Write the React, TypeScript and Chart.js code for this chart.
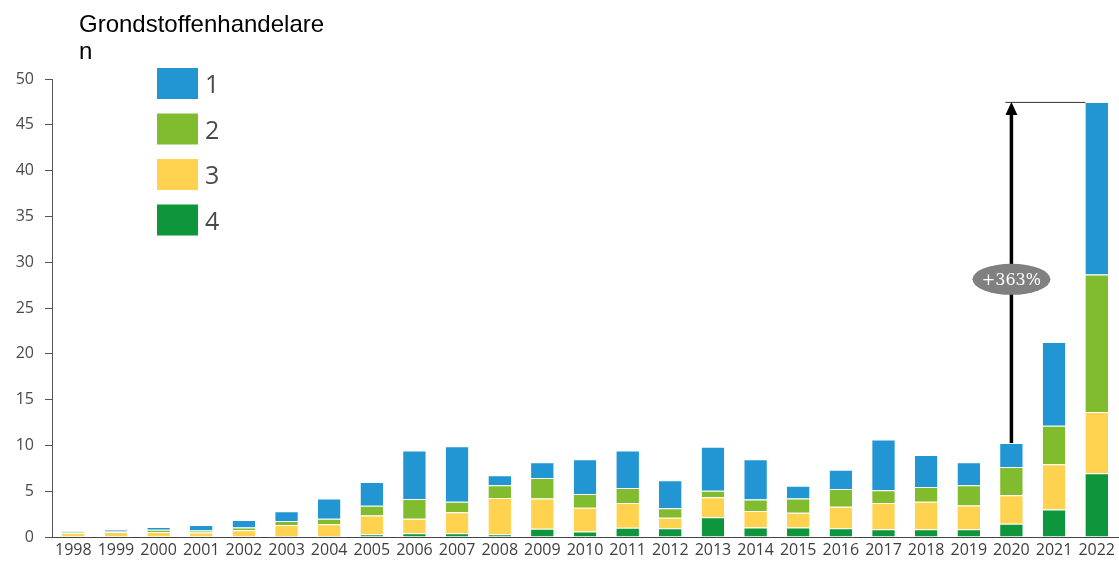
import React, { useEffect, useRef } from 'react';
import { Chart, registerables } from 'chart.js';

Chart.register(...registerables);

// Categories (years)
const years = [
  '1998', '1999', '2000', '2001', '2002', '2003', '2004', '2005', '2006', '2007',
  '2008', '2009', '2010', '2011', '2012', '2013', '2014', '2015', '2016', '2017',
  '2018', '2019', '2020', '2021', '2022',
];

// Series values, one array per category group
const series1 = [0.07, 0.2, 0.3, 0.6, 0.8, 1.05, 2.2, 2.6, 5.3, 6.05, 1.1, 1.7, 3.8, 4.1, 3.05, 4.8, 4.4, 1.4, 2.1, 5.55, 3.5, 2.5, 2.6, 9.15, 18.85];
const series2 = [0.08, 0.05, 0.25, 0.2, 0.3, 0.45, 0.6, 1.05, 2.15, 1.15, 1.4, 2.25, 1.5, 1.65, 1.05, 0.7, 1.25, 1.55, 1.95, 1.4, 1.6, 2.2, 3.1, 4.2, 15.0];
const series3 = [0.45, 0.55, 0.5, 0.45, 0.75, 1.2, 1.3, 2.05, 1.6, 2.3, 3.95, 3.3, 2.6, 2.7, 1.15, 2.2, 1.8, 1.6, 2.35, 2.85, 3.0, 2.6, 3.1, 4.95, 6.7];
const series4 = [0, 0, 0.05, 0.05, 0, 0.1, 0.1, 0.3, 0.4, 0.4, 0.3, 0.9, 0.6, 1.0, 0.95, 2.15, 1.05, 1.05, 0.95, 0.85, 0.85, 0.85, 1.45, 3.0, 6.95];

const seriesNames = ['1', '2', '3', '4'];
const seriesColors = ['#2196D3', '#80BC2D', '#FFD24F', '#0E963D'];

// Y axis ticks
const yMin = 0;
const yMax = 50;
const yStep = 5;

// Title (wraps onto a second line)
const titleLines = ['Grondstoffenhandelare', 'n'];

// Growth annotation between two years
const growthFrom = '2020';
const growthTo = '2022';

const seriesValues = [series1, series2, series3, series4];
const totals = years.map((_, i) => seriesValues.reduce((s, arr) => s + arr[i], 0));

const overlayPlugin = {
  id: 'overlay',
  afterDraw(chart: any) {
    const ctx = chart.ctx as CanvasRenderingContext2D;
    ctx.save();

    // Title
    ctx.fillStyle = '#000000';
    ctx.font = '24px "Liberation Sans", Arial, sans-serif';
    ctx.textAlign = 'left';
    ctx.textBaseline = 'alphabetic';
    titleLines.forEach((t, k) => ctx.fillText(t, 79, 32 + k * 26.5));

    // Legend
    seriesNames.forEach((name, k) => {
      const top = 68 + k * 45.5;
      ctx.fillStyle = seriesColors[k];
      ctx.fillRect(157, top, 41, 31);
      ctx.fillStyle = '#4a4a4a';
      ctx.font = '25px "Open Sans", sans-serif';
      ctx.textAlign = 'left';
      ctx.textBaseline = 'alphabetic';
      ctx.fillText(name, 205, top + 25);
    });

    // Growth arrow
    const xs = chart.scales.x;
    const ys = chart.scales.y;
    const iFrom = years.indexOf(growthFrom);
    const iTo = years.indexOf(growthTo);
    const xFrom = xs.getPixelForValue(iFrom);
    const yFrom = ys.getPixelForValue(totals[iFrom]);
    const yTo = ys.getPixelForValue(totals[iTo]);
    const topBar = chart.getDatasetMeta(3).data[iTo];
    const barLeft = topBar.x - topBar.width / 2;

    const headH = 13;
    const headW = 6;

    // leader line to the target bar
    ctx.strokeStyle = '#333333';
    ctx.lineWidth = 1;
    ctx.beginPath();
    ctx.moveTo(xFrom - headW, yTo + 0.5);
    ctx.lineTo(barLeft, yTo + 0.5);
    ctx.stroke();

    // shaft
    ctx.strokeStyle = '#000000';
    ctx.lineWidth = 3.5;
    ctx.beginPath();
    ctx.moveTo(xFrom, yFrom);
    ctx.lineTo(xFrom, yTo + headH - 1);
    ctx.stroke();

    // head
    ctx.fillStyle = '#000000';
    ctx.beginPath();
    ctx.moveTo(xFrom, yTo);
    ctx.lineTo(xFrom - headW, yTo + headH);
    ctx.lineTo(xFrom + headW, yTo + headH);
    ctx.closePath();
    ctx.fill();

    // percentage badge
    const pct = Math.round((totals[iTo] / totals[iFrom] - 1) * 100);
    const cy = yFrom + (yTo - yFrom) * 0.48;
    ctx.fillStyle = '#808080';
    ctx.beginPath();
    ctx.ellipse(xFrom, cy, 39, 15.5, 0, 0, Math.PI * 2);
    ctx.fill();
    ctx.fillStyle = '#ffffff';
    ctx.font = '16px "DejaVu Serif", serif';
    ctx.textAlign = 'center';
    ctx.textBaseline = 'alphabetic';
    ctx.fillText(`+${pct}%`, xFrom, cy + 6);

    ctx.restore();
  },
};

export default function App() {
  const canvasRef = useRef<HTMLCanvasElement | null>(null);

  useEffect(() => {
    if (!canvasRef.current) return;
    const chart = new Chart(canvasRef.current, {
      type: 'bar',
      data: {
        labels: years,
        // stacked bottom to top: 4, 3, 2, 1 (top series drawn last)
        datasets: [3, 2, 1, 0].map((k) => ({
          label: seriesNames[k],
          data: seriesValues[k],
          backgroundColor: seriesColors[k],
          borderColor: '#ffffff',
          borderWidth: { top: 1, left: 0, right: 0, bottom: 0 },
          borderSkipped: false,
          barPercentage: 0.53,
          categoryPercentage: 1,
          stack: 'all',
        })),
      },
      options: {
        responsive: false,
        animation: false,
        layout: { padding: { top: 79, right: 0, bottom: 0, left: 0 } },
        plugins: {
          legend: { display: false },
          title: { display: false },
          tooltip: { enabled: false },
        },
        scales: {
          x: {
            stacked: true,
            grid: { display: false, drawTicks: false },
            border: { display: true, color: '#444444', width: 1 },
            ticks: {
              autoSkip: false,
              maxRotation: 0,
              minRotation: 0,
              padding: 4,
              color: '#3f3f3f',
              font: { family: '"Open Sans", sans-serif', size: 16 },
            },
            afterFit: (scale: any) => {
              scale.height = 25;
            },
          },
          y: {
            stacked: true,
            min: yMin,
            max: yMax,
            grid: { display: true, drawOnChartArea: false, drawTicks: true, tickLength: 7, color: '#555555' },
            border: { display: true, color: '#555555', width: 1 },
            ticks: {
              stepSize: yStep,
              padding: 11,
              color: '#4a4a4a',
              font: { family: '"Open Sans", sans-serif', size: 16 },
            },
            afterFit: (scale: any) => {
              scale.width = 52;
            },
          },
        },
      },
      plugins: [overlayPlugin],
    });
    return () => chart.destroy();
  }, []);

  return (
    <div style={{ position: 'absolute', left: 0, top: 0, width: 1119, height: 562, background: '#ffffff' }}>
      <canvas ref={canvasRef} width={1119} height={562} style={{ width: 1119, height: 562, display: 'block' }} />
    </div>
  );
}
